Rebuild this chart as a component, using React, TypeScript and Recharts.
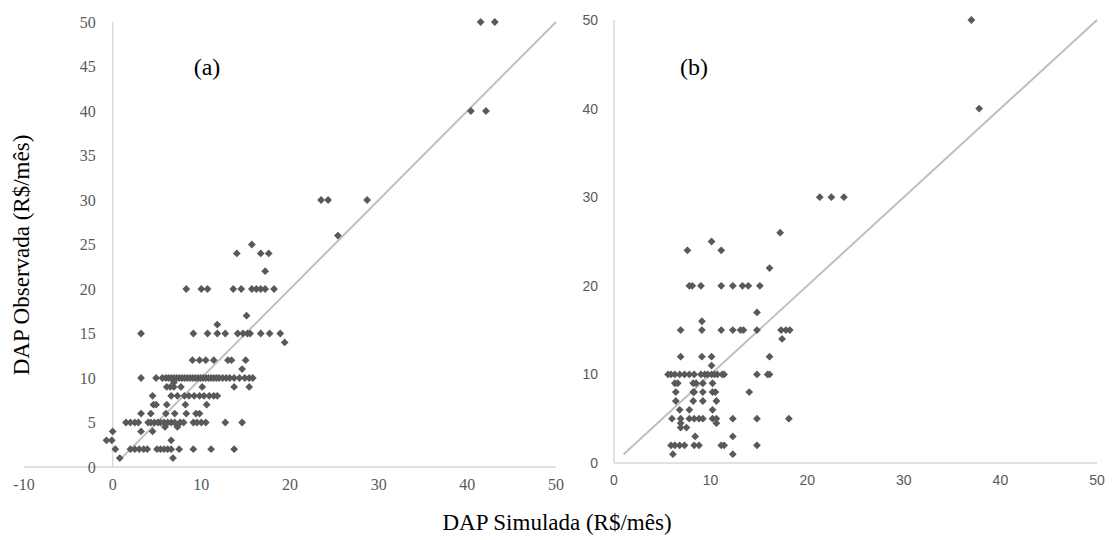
import React from 'react';
import { ScatterChart, Scatter, XAxis, YAxis, ReferenceLine } from 'recharts';

// ---------- Panel (a) data: simulated (x) vs observed (y) ----------
const simA = [
  41.5, 43.1,
  40.4, 42.1,
  23.5, 24.3, 28.7,
  25.4,
  15.7,
  14.0, 16.7, 17.6,
  17.2,
  8.3, 10.0, 10.7, 13.6, 14.5, 15.7, 16.2, 16.7, 17.2, 18.2,
  15.1,
  11.8,
  3.2, 9.1, 10.7, 11.8, 12.7, 14.1, 14.7, 15.2, 15.5, 16.7, 17.7, 18.9,
  19.4,
  9.0, 9.8, 10.5, 11.4, 13.0, 13.4, 15.0,
  14.6,
  3.2, 4.9, 5.6, 6.0, 6.3, 6.6, 6.9, 7.2, 7.5, 7.8, 8.1, 8.4, 8.7, 9.0, 9.3, 9.6, 9.9, 10.2, 10.5, 10.8, 11.1, 11.4, 11.7, 12.0, 12.4, 12.8, 13.2, 13.7, 14.3, 14.9, 15.4, 15.8,
  6.9,
  6.1, 6.5, 6.9, 7.7, 10.1, 13.7, 15.4,
  4.5, 6.6, 7.3, 8.1, 8.6, 9.2, 9.8, 10.3, 10.9, 11.4, 11.8,
  4.6, 4.9, 6.1, 8.2, 10.6,
  3.2, 4.3, 6.0, 7.0, 8.3, 9.4, 9.8,
  1.5, 2.0, 2.5, 2.9, 4.0, 4.3, 4.7, 5.1, 5.4, 5.8, 6.2, 6.6, 7.0, 7.6, 8.0, 9.1, 9.5, 10.0, 10.5, 12.7, 14.6,
  5.9, 7.3,
  0.0, 3.2, 4.5,
  -0.7, -0.1, 6.6,
  0.3, 2.0, 2.5, 3.0, 3.5, 3.9, 5.0, 5.4, 5.8, 6.2, 6.6, 7.5, 9.1, 11.1, 13.7,
  0.8, 6.8,
];
const obsA = [
  50, 50,
  40, 40,
  30, 30, 30,
  26,
  25,
  24, 24, 24,
  22,
  20, 20, 20, 20, 20, 20, 20, 20, 20, 20,
  17,
  16,
  15, 15, 15, 15, 15, 15, 15, 15, 15, 15, 15, 15,
  14,
  12, 12, 12, 12, 12, 12, 12,
  11,
  10, 10, 10, 10, 10, 10, 10, 10, 10, 10, 10, 10, 10, 10, 10, 10, 10, 10, 10, 10, 10, 10, 10, 10, 10, 10, 10, 10, 10, 10, 10, 10,
  9.5,
  9, 9, 9, 9, 9, 9, 9,
  8, 8, 8, 8, 8, 8, 8, 8, 8, 8, 8,
  7, 7, 7, 7, 7,
  6, 6, 6, 6, 6, 6, 6,
  5, 5, 5, 5, 5, 5, 5, 5, 5, 5, 5, 5, 5, 5, 5, 5, 5, 5, 5, 5, 5,
  4.5, 4.5,
  4, 4, 4,
  3, 3, 3,
  2, 2, 2, 2, 2, 2, 2, 2, 2, 2, 2, 2, 2, 2, 2,
  1, 1,
];

// ---------- Panel (b) data ----------
const simB = [
  37.0,
  37.8,
  21.3, 22.5, 23.8,
  17.2,
  10.1,
  7.6, 11.1,
  16.1,
  7.8, 8.1, 9.0, 11.1, 12.3, 13.3, 13.9, 15.1,
  14.8,
  9.1,
  6.9, 9.1, 11.1, 12.3, 13.1, 13.4, 14.8, 17.3, 17.8, 18.2,
  17.4,
  6.9, 9.1, 10.1, 16.1,
  10.1,
  5.6, 5.9, 6.3, 6.8, 7.3, 7.8, 8.3, 9.0, 9.4, 9.7, 10.1, 10.4, 10.7, 11.2, 11.4, 14.8, 15.9, 16.1,
  6.3, 6.6, 8.2, 8.5, 9.2, 10.2,
  6.4, 8.2, 8.3, 9.2, 10.2, 10.5, 14.0,
  6.4, 8.2, 9.2, 10.6,
  6.8, 7.8, 10.2,
  6.0, 6.9, 7.8, 8.3, 8.8, 9.2, 10.2, 10.6, 12.3, 14.8, 18.1,
  6.9, 10.6,
  6.9, 7.5,
  8.4, 12.3,
  5.9, 6.3, 6.8, 7.3, 8.3, 8.8, 11.1, 11.4, 14.8,
  6.1, 12.3,
];
const obsB = [
  50,
  40,
  30, 30, 30,
  26,
  25,
  24, 24,
  22,
  20, 20, 20, 20, 20, 20, 20, 20,
  17,
  16,
  15, 15, 15, 15, 15, 15, 15, 15, 15, 15,
  14,
  12, 12, 12, 12,
  11,
  10, 10, 10, 10, 10, 10, 10, 10, 10, 10, 10, 10, 10, 10, 10, 10, 10, 10,
  9, 9, 9, 9, 9, 9,
  8, 8, 8, 8, 8, 8, 8,
  7, 7, 7, 7,
  6, 6, 6,
  5, 5, 5, 5, 5, 5, 5, 5, 5, 5, 5,
  4.5, 4.5,
  4, 4,
  3, 3,
  2, 2, 2, 2, 2, 2, 2, 2, 2,
  1, 1,
];

// ---------- Axes ----------
const xTicksA = [-10, 0, 10, 20, 30, 40, 50];
const yTicksA = [0, 5, 10, 15, 20, 25, 30, 35, 40, 45, 50];
const xTicksB = [0, 10, 20, 30, 40, 50];
const yTicksB = [0, 10, 20, 30, 40, 50];
const domainXA: [number, number] = [-10, 50];
const domainXB: [number, number] = [0, 50];
const domainY: [number, number] = [0, 50];
const fitLine = [{ x: 1, y: 1 }, { x: 50, y: 50 }];

const labelA = '(a)';
const labelB = '(b)';
const yTitle = 'DAP Observada (R$/mês)';
const xTitle = 'DAP Simulada (R$/mês)';

const dataA = simA.map((x, i) => ({ x, y: obsA[i] }));
const dataB = simB.map((x, i) => ({ x, y: obsB[i] }));

const POINT = '#595959';
const AXIS = '#d9d9d9';
const DIAG = '#bfbfbf';
const SERIF = '"Liberation Serif", "Times New Roman", serif';
const SANS = '"Liberation Sans", Arial, sans-serif';

const Diamond = (props: any) => {
  const { cx, cy } = props;
  if (cx == null || cy == null) return null;
  const r = 3.9;
  return (
    <polygon
      points={`${cx},${cy - r} ${cx + r},${cy} ${cx},${cy + r} ${cx - r},${cy}`}
      fill={POINT}
    />
  );
};

// layout
const WA = 570, WB = 545, H = 540;
const marginA = { top: 22, right: 14, bottom: 43, left: 4 };
const yAxisWA = 20;
const marginB = { top: 20, right: 18, bottom: 47, left: 4 };
const yAxisWB = 40;
const plotLeftA = marginA.left + yAxisWA;
const plotWA = WA - plotLeftA - marginA.right;
const axisXA = plotLeftA + ((0 - domainXA[0]) / (domainXA[1] - domainXA[0])) * plotWA;

const YTickA = (p: any) => (
  <text
    x={axisXA - 17}
    y={p.y}
    textAnchor="end"
    dominantBaseline="central"
    fontFamily={SERIF}
    fontSize={16}
    fill={POINT}
  >
    {p.payload.value}
  </text>
);

export default function App() {
  return (
    <div style={{ position: 'absolute', left: 0, top: 0, width: 1115, height: H, background: '#fff' }}>
      <div style={{ position: 'absolute', left: 0, top: 0 }}>
        <ScatterChart width={WA} height={H} margin={marginA}>
          <XAxis
            type="number"
            dataKey="x"
            domain={domainXA}
            ticks={xTicksA}
            interval={0}
            height={30}
            axisLine={false}
            tickLine={false}
            tickMargin={6}
            tick={{ fontFamily: SERIF, fontSize: 16, fill: POINT }}
          />
          <YAxis
            type="number"
            dataKey="y"
            domain={domainY}
            ticks={yTicksA}
            interval={0}
            width={yAxisWA}
            axisLine={false}
            tickLine={false}
            tick={YTickA}
          />
          <ReferenceLine y={0} stroke={AXIS} strokeWidth={1.5} />
          <ReferenceLine x={0} stroke={AXIS} strokeWidth={1.5} />
          <ReferenceLine segment={fitLine} stroke={DIAG} strokeWidth={2} />
          <Scatter data={dataA} shape={Diamond} isAnimationActive={false} />
        </ScatterChart>
      </div>
      <div style={{ position: 'absolute', left: WA, top: 0 }}>
        <ScatterChart width={WB} height={H} margin={marginB}>
          <XAxis
            type="number"
            dataKey="x"
            domain={domainXB}
            ticks={xTicksB}
            interval={0}
            height={30}
            axisLine={false}
            tickLine={false}
            tickMargin={6}
            tick={{ fontFamily: SANS, fontSize: 14, fill: POINT }}
          />
          <YAxis
            type="number"
            dataKey="y"
            domain={domainY}
            ticks={yTicksB}
            interval={0}
            width={yAxisWB}
            axisLine={false}
            tickLine={false}
            tickMargin={10}
            tick={{ fontFamily: SANS, fontSize: 14, fill: POINT }}
          />
          <ReferenceLine y={0} stroke={AXIS} strokeWidth={1.5} />
          <ReferenceLine x={0} stroke={AXIS} strokeWidth={1.5} />
          <ReferenceLine segment={fitLine} stroke={DIAG} strokeWidth={2} />
          <Scatter data={dataB} shape={Diamond} isAnimationActive={false} />
        </ScatterChart>
      </div>
      <svg
        width={1115}
        height={H}
        style={{ position: 'absolute', left: 0, top: 0, pointerEvents: 'none' }}
      >
        <text x={207} y={75} textAnchor="middle" fontFamily={SERIF} fontSize={24} fill="#000">
          {labelA}
        </text>
        <text x={694} y={75} textAnchor="middle" fontFamily={SERIF} fontSize={24} fill="#000">
          {labelB}
        </text>
        <text
          x={0}
          y={0}
          transform="translate(29,255) rotate(-90)"
          textAnchor="middle"
          fontFamily={SERIF}
          fontSize={23}
          fill="#000"
        >
          {yTitle}
        </text>
        <text x={557} y={530} textAnchor="middle" fontFamily={SERIF} fontSize={23} fill="#000">
          {xTitle}
        </text>
      </svg>
    </div>
  );
}
